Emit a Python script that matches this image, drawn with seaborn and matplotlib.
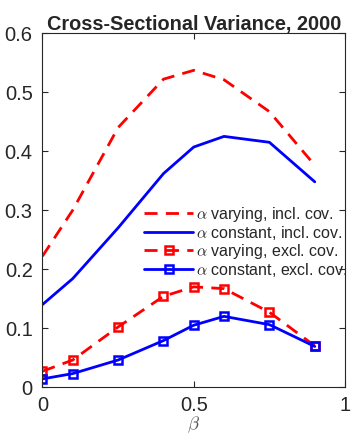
import matplotlib
matplotlib.use("Agg")
import matplotlib.pyplot as plt
import pandas as pd
import seaborn as sns

# beta grid and the four variance curves
beta = [0.0, 0.1, 0.25, 0.4, 0.5, 0.6, 0.75, 0.9]
var_incl = [0.222, 0.300, 0.440, 0.522, 0.537, 0.521, 0.467, 0.376]
const_incl = [0.140, 0.184, 0.270, 0.362, 0.407, 0.425, 0.415, 0.348]
var_excl = [0.027, 0.046, 0.102, 0.154, 0.170, 0.167, 0.127, 0.070]
const_excl = [0.014, 0.023, 0.046, 0.079, 0.105, 0.120, 0.106, 0.069]

labels = [r"$\alpha$ varying, incl. cov.",
          r"$\alpha$ constant, incl. cov.",
          r"$\alpha$ varying, excl. cov.",
          r"$\alpha$ constant, excl. cov."]

sns.set_style("ticks")
plt.rcParams["font.family"] = ["Liberation Sans", "DejaVu Sans"]
plt.rcParams["mathtext.fontset"] = "cm"

fig = plt.figure(figsize=(3.51, 4.36), dpi=100)
ax = fig.add_axes([0.121, 0.112, 0.862, 0.812])

dash = (0, (4.7, 3))
series = [
    (var_incl, labels[0], "red", dash, None),
    (const_incl, labels[1], "blue", "-", None),
    (var_excl, labels[2], "red", dash, "s"),
    (const_excl, labels[3], "blue", "-", "s"),
]
for vals, lab, col, ls, mk in series:
    df = pd.DataFrame({"beta": beta, "v": vals})
    sns.lineplot(data=df, x="beta", y="v", ax=ax, color=col, linestyle=ls,
                 linewidth=2, marker=mk, markersize=5.5, markerfacecolor="none",
                 markeredgecolor=col, markeredgewidth=1.8, label=lab)

ax.set_xlim(0, 1)
ax.set_ylim(0, 0.6)
ax.set_xticks([0, 0.5, 1])
ax.set_xticklabels(["0", "0.5", "1"])
ax.set_yticks([0, 0.1, 0.2, 0.3, 0.4, 0.5, 0.6])
ax.set_yticklabels(["0", "0.1", "0.2", "0.3", "0.4", "0.5", "0.6"])
ax.tick_params(direction="in", top=True, right=True, labelsize=14.5,
               colors="#262626", length=4, width=0.8)
ax.tick_params(axis="x", pad=6)
ax.tick_params(axis="y", pad=7)
for s in ax.spines.values():
    s.set_color("#262626")
    s.set_linewidth(0.8)
ax.set_xlabel(r"$\beta$", fontsize=13.5, color="#555555", labelpad=0)
ax.set_ylabel("")
ax.set_title("Cross-Sectional Variance, 2000", fontsize=14.3,
             fontweight="bold", pad=2)

ax.legend(loc="center right", bbox_to_anchor=(1.03, 0.41), frameon=False,
          fontsize=11.5, handlelength=3.1, handletextpad=0.2, numpoints=1,
          labelspacing=0.0, borderaxespad=0)

fig.savefig("out.png", dpi=100)
